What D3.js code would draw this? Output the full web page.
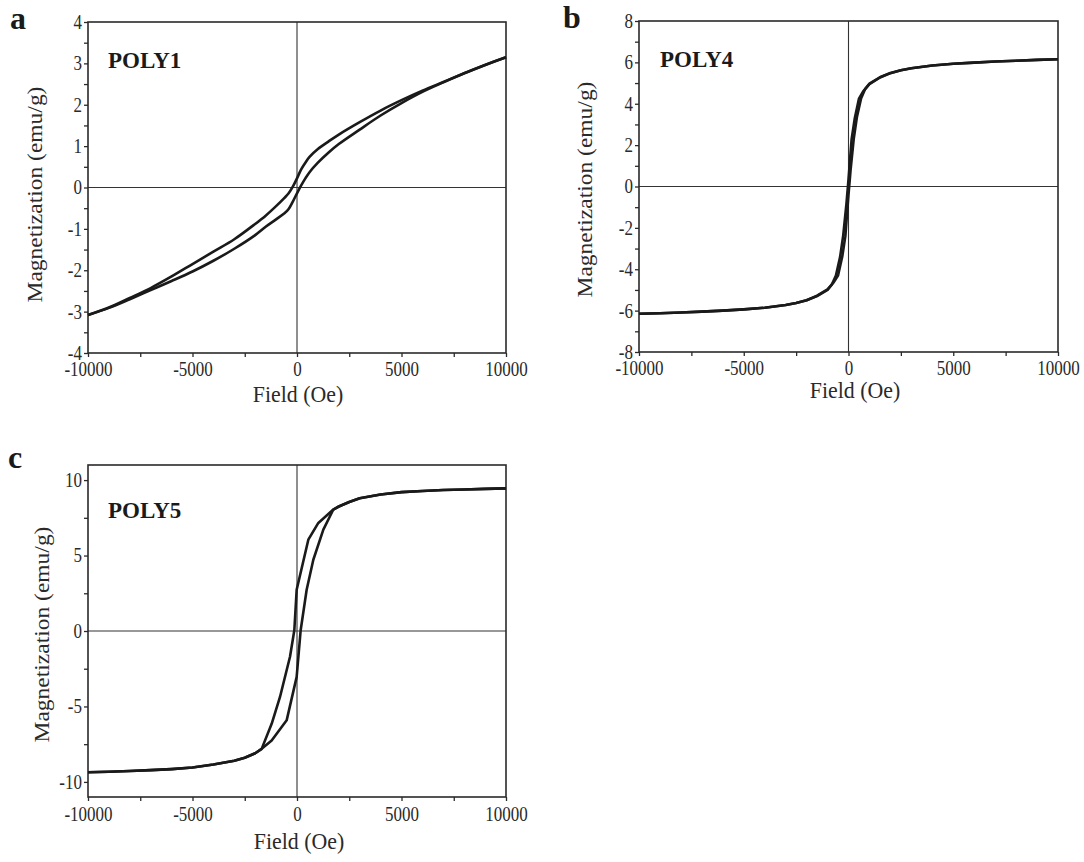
<!DOCTYPE html>
<html><head><meta charset="utf-8">
<script src="https://cdn.jsdelivr.net/npm/d3@7"></script>
<style>
body{margin:0;background:#fff}
text{font-family:"Liberation Serif","Times New Roman",serif}
</style>
</head><body>
<svg id="chart" width="1084" height="862"></svg>
<script>
// ---------- data ----------
const fieldTicks = [-10000, -5000, 0, 5000, 10000];
const fieldMinor = [-7500, -2500, 2500, 7500];

const poly1Ticks = [-4, -3, -2, -1, 0, 1, 2, 3, 4];
const poly1Minor = [-3.5, -2.5, -1.5, -0.5, 0.5, 1.5, 2.5, 3.5];
const poly4Ticks = [-8, -6, -4, -2, 0, 2, 4, 6, 8];
const poly4Minor = [-7, -5, -3, -1, 1, 3, 5, 7];
const poly5Ticks = [-10, -5, 0, 5, 10];
const poly5Minor = [-7.5, -2.5, 2.5, 7.5];

// POLY1 : [field (Oe), magnetization (emu/g)]
const poly1Down = [[10000,3.15],[9000,2.96],[8000,2.76],[7000,2.55],[6000,2.34],[5000,2.11],[4000,1.86],[3000,1.58],[2000,1.28],[1500,1.11],[1000,0.93],[600,0.74],[400,0.60],[200,0.44],[0,0.22],[-200,0.02],[-400,-0.14],[-600,-0.25],[-1000,-0.45],[-1500,-0.68],[-2000,-0.88],[-3000,-1.25],[-4000,-1.55],[-5000,-1.85],[-6000,-2.15],[-7000,-2.43],[-8000,-2.67],[-9000,-2.90],[-10000,-3.08]];
const poly1Up = [[-10000,-3.08],[-9000,-2.91],[-8000,-2.70],[-7000,-2.48],[-6000,-2.26],[-5000,-2.03],[-4000,-1.77],[-3000,-1.48],[-2000,-1.15],[-1500,-0.95],[-1000,-0.77],[-600,-0.62],[-400,-0.52],[-200,-0.34],[0,-0.14],[200,0.05],[400,0.22],[600,0.37],[1000,0.60],[1500,0.84],[2000,1.05],[3000,1.40],[4000,1.74],[5000,2.04],[6000,2.31],[7000,2.54],[8000,2.76],[9000,2.96],[10000,3.15]];

// POLY4
const poly4Down = [[10000,6.15],[9000,6.12],[8000,6.08],[7000,6.04],[6000,5.99],[5000,5.93],[4000,5.85],[3000,5.72],[2500,5.62],[2000,5.48],[1500,5.27],[1000,4.95],[700,4.6],[500,4.25],[300,3.3],[150,2.3],[0,0.35],[-100,-0.85],[-250,-2.35],[-400,-3.4],[-600,-4.3],[-800,-4.75],[-1000,-5.0],[-1500,-5.3],[-2000,-5.5],[-2500,-5.63],[-3000,-5.73],[-4000,-5.86],[-5000,-5.94],[-6000,-6.0],[-7000,-6.05],[-8000,-6.09],[-9000,-6.13],[-10000,-6.15]];
const poly4Up = [[-10000,-6.15],[-9000,-6.13],[-8000,-6.09],[-7000,-6.05],[-6000,-6.0],[-5000,-5.94],[-4000,-5.86],[-3000,-5.73],[-2500,-5.63],[-2000,-5.5],[-1500,-5.28],[-1000,-4.97],[-700,-4.62],[-500,-4.3],[-300,-3.4],[-150,-2.4],[0,-0.4],[100,0.8],[250,2.3],[400,3.35],[600,4.25],[800,4.72],[1000,4.97],[1500,5.28],[2000,5.49],[2500,5.62],[3000,5.72],[4000,5.85],[5000,5.93],[6000,5.99],[7000,6.04],[8000,6.08],[9000,6.12],[10000,6.15]];

// POLY5
const poly5Down = [[10000,9.45],[9000,9.42],[8000,9.38],[7000,9.34],[6000,9.28],[5000,9.2],[4000,9.05],[3000,8.8],[2500,8.55],[2000,8.25],[1738,8.05],[1021,7.16],[542,6.05],[-16,2.73],[-128,0.05],[-335,-1.71],[-813,-4.37],[-1212,-6.15],[-1691,-7.81],[-2000,-8.1],[-2500,-8.4],[-3000,-8.6],[-4000,-8.85],[-5000,-9.05],[-6000,-9.15],[-7000,-9.22],[-8000,-9.28],[-9000,-9.33],[-10000,-9.36]];
const poly5Up = [[-10000,-9.36],[-9000,-9.33],[-8000,-9.28],[-7000,-9.22],[-6000,-9.15],[-5000,-9.05],[-4000,-8.85],[-3000,-8.6],[-2500,-8.4],[-2000,-8.1],[-1691,-7.81],[-1212,-7.25],[-495,-5.92],[-16,-3.04],[175,0.05],[462,2.73],[781,4.72],[1260,6.72],[1738,8.05],[2000,8.25],[2500,8.55],[3000,8.8],[4000,9.05],[5000,9.2],[6000,9.28],[7000,9.34],[8000,9.38],[9000,9.42],[10000,9.45]];

const panelLetters = ["a", "b", "c"];
const sampleNames = ["POLY1", "POLY4", "POLY5"];
const xTitle = "Field (Oe)";
const yTitle = "Magnetization (emu/g)";

// ---------- layout ----------
const panels = [
  {letter: panelLetters[0], name: sampleNames[0], x0: 88, x1: 506, y0: 22, y1: 353, yDom: [-4, 4],
   ticks: poly1Ticks, minor: poly1Minor, down: poly1Down, up: poly1Up, smooth: true, xpad: 5,
   lx: 10, ly: 29, nx: 108, ny: 68, mx: 42, my: 194.5, fx: 298, fy: 402},
  {letter: panelLetters[1], name: sampleNames[1], x0: 639, x1: 1058, y0: 21, y1: 352, yDom: [-8, 8],
   ticks: poly4Ticks, minor: poly4Minor, down: poly4Down, up: poly4Up, smooth: false, xpad: 5,
   lx: 563, ly: 28, nx: 660, ny: 67, mx: 592, my: 189.5, fx: 855, fy: 398},
  {letter: panelLetters[2], name: sampleNames[2], x0: 88, x1: 506, y0: 465, y1: 797, yDom: [-11, 11],
   ticks: poly5Ticks, minor: poly5Minor, down: poly5Down, up: poly5Up, smooth: false, xpad: 6,
   lx: 8, ly: 468, nx: 108, ny: 518, mx: 49, my: 634.5, fx: 299, fy: 849}
];

const svg = d3.select("#chart");
const ink = "#1a1a1a";

function squeeze(sel, f) {
  sel.each(function () {
    const L = this.getComputedTextLength();
    this.setAttribute("textLength", (L * f).toFixed(2));
    this.setAttribute("lengthAdjust", "spacingAndGlyphs");
  });
}

panels.forEach(p => {
  const g = svg.append("g");
  const x = d3.scaleLinear().domain([-10000, 10000]).range([p.x0, p.x1]);
  const y = d3.scaleLinear().domain(p.yDom).range([p.y1, p.y0]);

  // axes
  const gx = g.append("g").attr("transform", `translate(0,${p.y1})`)
    .call(d3.axisBottom(x).tickValues(fieldTicks).tickFormat(d => String(d)).tickSize(4).tickSizeOuter(0).tickPadding(p.xpad));
  const gxm = g.append("g").attr("transform", `translate(0,${p.y1})`)
    .call(d3.axisBottom(x).tickValues(fieldMinor).tickFormat("").tickSize(4).tickSizeOuter(0));
  const gy = g.append("g").attr("transform", `translate(${p.x0},0)`)
    .call(d3.axisLeft(y).tickValues(p.ticks).tickFormat(d => String(d)).tickSize(4).tickSizeOuter(0).tickPadding(2));
  const gym = g.append("g").attr("transform", `translate(${p.x0},0)`)
    .call(d3.axisLeft(y).tickValues(p.minor).tickFormat("").tickSize(4).tickSizeOuter(0));
  [gx, gxm, gy, gym].forEach(a => {
    a.select(".domain").remove();
    a.attr("font-size", 20).attr("color", "#2a2a2a");
    a.selectAll(".tick line").attr("stroke-width", 1.3);
  });
  squeeze(gx.selectAll(".tick text"), 0.85);
  squeeze(gy.selectAll(".tick text"), 0.85);

  // zero lines
  g.append("line").attr("x1", x(0)).attr("x2", x(0)).attr("y1", p.y0).attr("y2", p.y1)
    .attr("stroke", "#333").attr("stroke-width", 1.1);
  g.append("line").attr("x1", p.x0).attr("x2", p.x1).attr("y1", y(0)).attr("y2", y(0))
    .attr("stroke", "#333").attr("stroke-width", 1.1);

  // frame
  g.append("rect").attr("x", p.x0).attr("y", p.y0).attr("width", p.x1 - p.x0).attr("height", p.y1 - p.y0)
    .attr("fill", "none").attr("stroke", "#2a2a2a").attr("stroke-width", 1.6);

  // curves
  const line = d3.line().x(d => x(d[0])).y(d => y(d[1]))
    .curve(p.smooth ? d3.curveCatmullRom.alpha(0.5) : d3.curveLinear);
  [p.down, p.up].forEach(s => {
    g.append("path").datum(s).attr("d", line).attr("fill", "none")
      .attr("stroke", ink).attr("stroke-width", 2.6).attr("stroke-linejoin", "round");
  });

  // texts
  g.append("text").attr("x", p.lx).attr("y", p.ly).attr("font-size", 32).attr("font-weight", "bold")
    .attr("fill", ink).text(p.letter);
  g.append("text").attr("x", p.nx).attr("y", p.ny).attr("font-size", 23).attr("font-weight", "bold")
    .attr("fill", ink).text(p.name);
  g.append("text").attr("transform", `translate(${p.mx},${p.my}) scale(0.88,1) rotate(-90)`)
    .attr("text-anchor", "middle").attr("font-size", 23.5).attr("fill", "#2a2a2a").text(yTitle);
  const ft = g.append("text").attr("x", p.fx).attr("y", p.fy).attr("text-anchor", "middle")
    .attr("font-size", 23.5).attr("fill", "#2a2a2a").text(xTitle);
  squeeze(ft, 0.93);
});
</script>
</body></html>
